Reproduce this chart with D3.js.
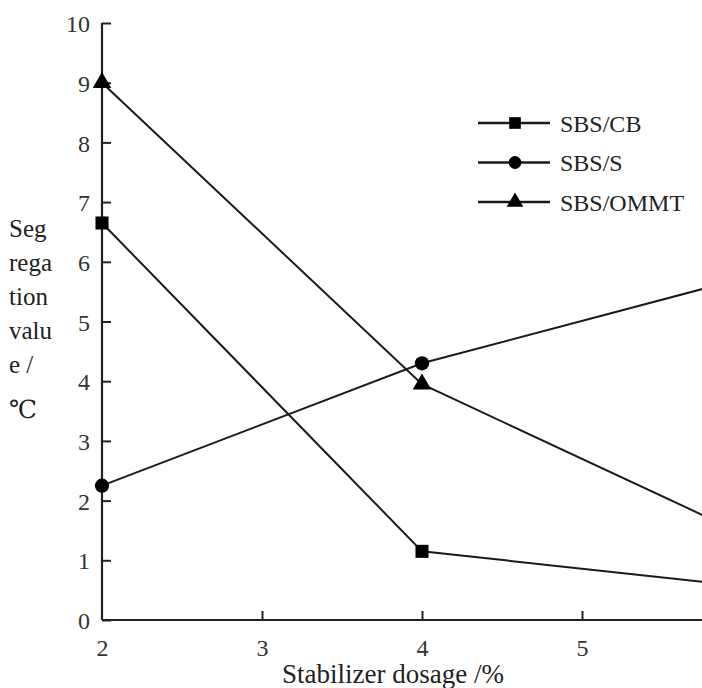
<!DOCTYPE html>
<html>
<head>
<meta charset="utf-8">
<script src="https://cdn.jsdelivr.net/npm/d3@7"></script>
<style>
  body { margin: 0; background: #fff; }
  svg { display: block; }
</style>
</head>
<body>
<script>
// data
var dosage = [2, 4, 6];
var seriesNames = ["SBS/CB", "SBS/S", "SBS/OMMT"];
var cbValues = [6.65, 1.15, 0.57];
var sValues = [2.25, 4.3, 5.72];
var ommtValues = [9.0, 3.95, 1.45];
var yTicks = [0, 1, 2, 3, 4, 5, 6, 7, 8, 9, 10];
var xTicks = [2, 3, 4, 5];
var yLabelLines = ["Seg", "rega", "tion", "valu", "e /", "\u2103"];

var font = "'Liberation Serif', 'Times New Roman', Times, 'DejaVu Serif', serif";
var w = 702, h = 688;
var svg = d3.select("body").append("svg").attr("width", w).attr("height", h)
    .attr("font-family", font);

var x = d3.scaleLinear().domain([2, 6]).range([102, 742]);
var y = d3.scaleLinear().domain([0, 10]).range([620, 23]);

var series = [
    { name: seriesNames[0], values: cbValues, shape: d3.symbolSquare, size: 170 },
    { name: seriesNames[1], values: sValues, shape: d3.symbolCircle, size: 160 },
    { name: seriesNames[2], values: ommtValues, shape: d3.symbolTriangle, size: 150 }
];

// axes
var yAxis = d3.axisRight(y).tickValues(yTicks).tickSize(9).tickFormat(d3.format("d"));
var gy = svg.append("g").attr("transform", "translate(" + x(2) + ",0)").call(yAxis);
gy.attr("font-family", font);
gy.select(".domain").attr("stroke", "#222").attr("stroke-width", 2.2).attr("d", "M0," + y(10) + "V" + y(0));
gy.selectAll(".tick line").attr("stroke", "#222").attr("stroke-width", 2);
gy.selectAll(".tick text")
    .attr("x", -12).attr("dy", "0.36em")
    .attr("text-anchor", "end")
    .attr("fill", "#333")
    .style("font-family", font)
    .style("font-size", "24px");

var xAxis = d3.axisTop(x).tickValues(xTicks).tickSize(9).tickFormat(d3.format("d"));
var gx = svg.append("g").attr("transform", "translate(0," + y(0) + ")").call(xAxis);
gx.attr("font-family", font);
gx.select(".domain").attr("stroke", "#222").attr("stroke-width", 2.2).attr("d", "M" + x(2) + ",0H" + w);
gx.selectAll(".tick line").attr("stroke", "#222").attr("stroke-width", 2)
    .attr("opacity", d => d == 2 ? 0 : 1);
gx.selectAll(".tick text")
    .attr("y", 36).attr("dy", 0)
    .attr("text-anchor", "middle")
    .attr("fill", "#333")
    .style("font-family", font)
    .style("font-size", "24px");

// lines
var line = d3.line()
    .x((d, i) => x(dosage[i]))
    .y(d => y(d));

series.forEach(s => {
    svg.append("path")
        .datum(s.values)
        .attr("fill", "none")
        .attr("stroke", "#1a1a1a")
        .attr("stroke-width", 2)
        .attr("d", line);
    svg.selectAll(null)
        .data(s.values)
        .enter().append("path")
        .attr("transform", (d, i) => "translate(" + x(dosage[i]) + "," + y(d) + ")")
        .attr("d", d3.symbol().type(s.shape).size(s.size))
        .attr("fill", "#000");
});

// legend
var legend = svg.append("g").attr("transform", "translate(478,123)");
series.forEach((s, i) => {
    var row = legend.append("g").attr("transform", "translate(0," + (i * 39.5) + ")");
    row.append("line").attr("x1", 0).attr("x2", 72).attr("y1", 0).attr("y2", 0)
        .attr("stroke", "#1a1a1a").attr("stroke-width", 2.5);
    row.append("path")
        .attr("transform", "translate(37,0)")
        .attr("d", d3.symbol().type(s.shape).size(s.size * 0.8))
        .attr("fill", "#000");
    row.append("text").attr("x", 82).attr("y", 0).attr("dy", "0.36em")
        .attr("fill", "#222")
        .style("font-family", font)
        .style("font-size", "24px").text(s.name);
});

// axis titles
var yl = svg.append("text").attr("fill", "#222").style("font-family", font).style("font-size", "25px");
yLabelLines.forEach((t, i) => {
    yl.append("tspan").attr("x", 9).attr("y", 237 + i * 34 + (i == 5 ? 11 : 0)).text(t);
});

svg.append("text")
    .attr("x", 393).attr("y", 683)
    .attr("text-anchor", "middle")
    .attr("fill", "#222")
    .style("font-family", font)
    .style("font-size", "27px")
    .text("Stabilizer dosage /%");
</script>
</body>
</html>
